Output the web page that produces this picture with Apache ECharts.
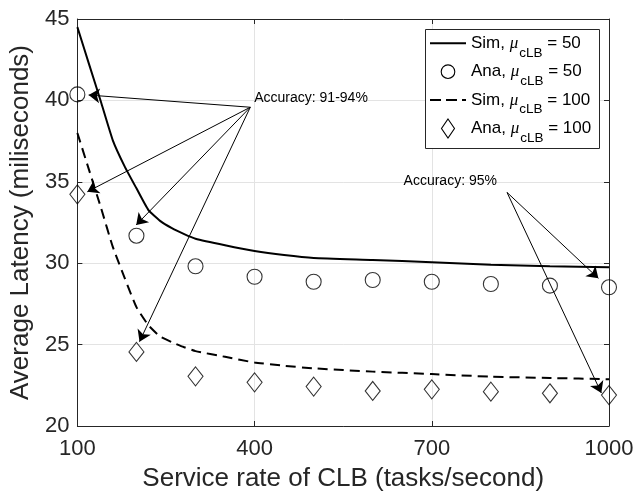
<!DOCTYPE html>
<html><head><meta charset="utf-8">
<script src="https://cdn.jsdelivr.net/npm/echarts@6/dist/echarts.min.js"></script>
<style>html,body{margin:0;padding:0;background:#fff}#c{width:638px;height:498px}</style>
</head><body><div id="c"></div>
<script>
// ---- data ----
const anaX = [100, 200, 300, 400, 500, 600, 700, 800, 900, 1000];
const ana50 = [40.37, 31.69, 29.81, 29.17, 28.86, 28.97, 28.86, 28.72, 28.62, 28.52];
const ana100 = [34.23, 24.55, 23.05, 22.68, 22.42, 22.15, 22.25, 22.11, 22.01, 21.90];
const simX = [100, 120, 140, 160, 180, 200, 220, 240, 260, 280, 300, 350, 400, 450, 500, 600, 700, 800, 900, 1000];
const sim50 = [44.5, 42.2, 39.9, 37.55, 35.95, 34.6, 33.28, 32.6, 32.15, 31.8, 31.5, 31.1, 30.75, 30.5, 30.32, 30.2, 30.06, 29.9, 29.81, 29.75];
const sim100 = [38.0, 35.7, 33.4, 31.0, 29.1, 27.3, 26.2, 25.5, 25.15, 24.85, 24.6, 24.25, 23.9, 23.7, 23.54, 23.34, 23.19, 23.03, 22.95, 22.87];
const xTicks = [100, 400, 700, 1000];
const yTicks = [20, 25, 30, 35, 40, 45];
const seriesNames = ['Sim, μcLB = 50', 'Ana, μcLB = 50', 'Sim, μcLB = 100', 'Ana, μcLB = 100'];
const legendPrefix = ['Sim, ', 'Ana, ', 'Sim, ', 'Ana, '];
const legendValue = ['50', '50', '100', '100'];
const legendIcon = ['solid', 'circle', 'dashed', 'diamond'];
const xTitle = 'Service rate of CLB (tasks/second)';
const yTitle = 'Average Latency (miliseconds)';
// annotations (data coordinates)
const annoText = ['Accuracy: 91-94%', 'Accuracy: 95%'];
const annoTextAt = [[399.4, 40.13], [652.2, 35.06]];
const arrowFrom = [[392.7, 39.58], [827.3, 34.35]];
const arrowTo = [
  [[119.1, 40.33], [116.9, 34.39], [199.6, 32.35], [205.2, 25.18]],
  [[982, 29.07], [987, 22.03]]
];

const FONT = "'Liberation Sans', Arial, Helvetica, sans-serif";
const SERIF = "'Liberation Serif', 'DejaVu Serif', serif";
const zip = (xs, ys) => xs.map((x, i) => [x, ys[i]]);

const arrowData = [];
arrowFrom.forEach((f, g) => arrowTo[g].forEach(t => arrowData.push([{ coord: f }, { coord: t }])));

// ---- legend drawn as graphic (box, sample marks, rich text with subscript) ----
const LG = { x: 425, y: 29, w: 174, h: 119, row0: 14.3, pitch: 28.4, iconX0: 5, iconX1: 41, textX: 46 };
const legendGraphic = [{
  type: 'rect', z: 100,
  shape: { x: LG.x + 0.5, y: LG.y + 0.5, width: LG.w, height: LG.h },
  style: { fill: '#fff', stroke: '#262626', lineWidth: 1 }
}];
legendIcon.forEach((ic, i) => {
  const cy = LG.y + LG.row0 + i * LG.pitch;
  const cx = LG.x + (LG.iconX0 + LG.iconX1) / 2;
  if (ic === 'solid' || ic === 'dashed') {
    legendGraphic.push({
      type: 'line', z: 101,
      shape: { x1: LG.x + LG.iconX0, y1: cy, x2: LG.x + LG.iconX1, y2: cy },
      style: { stroke: '#000', lineWidth: 2, lineDash: ic === 'dashed' ? [11, 5] : null }
    });
  } else if (ic === 'circle') {
    legendGraphic.push({
      type: 'circle', z: 101, shape: { cx: cx, cy: cy, r: 6.8 },
      style: { fill: 'none', stroke: '#000', lineWidth: 1.1 }
    });
  } else {
    legendGraphic.push({
      type: 'polygon', z: 101,
      shape: { points: [[cx, cy - 9.5], [cx + 6.5, cy], [cx, cy + 9.5], [cx - 6.5, cy]] },
      style: { fill: 'none', stroke: '#000', lineWidth: 1.1 }
    });
  }
  legendGraphic.push({
    type: 'text', z: 101,
    style: {
      x: LG.x + LG.textX, y: cy, verticalAlign: 'middle', align: 'left',
      text: '{a|' + legendPrefix[i] + '}{m|μ}{s|cLB}{a| = ' + legendValue[i] + '}',
      rich: {
        a: { fontSize: 17, fontFamily: FONT, fill: '#000' },
        m: { fontSize: 17, fontStyle: 'italic', fontFamily: SERIF, fill: '#000' },
        s: { fontSize: 13.5, fontFamily: FONT, fill: '#000', padding: [19, 0, 0, 1] }
      }
    }
  });
});

const chart = echarts.init(document.getElementById('c'), null, { renderer: 'canvas' });
const axisCommon = {
  axisLine: { show: true, onZero: false, lineStyle: { color: '#262626', width: 1 } },
  axisTick: { show: true, inside: true, length: 5, lineStyle: { color: '#262626' } },
};
chart.setOption({
  animation: false,
  backgroundColor: '#fff',
  grid: { left: 76, right: 29, top: 19, bottom: 72, containLabel: false },
  xAxis: [
    Object.assign({
      type: 'value', min: xTicks[0], max: xTicks[xTicks.length - 1], interval: xTicks[1] - xTicks[0],
      name: xTitle, nameLocation: 'middle', nameGap: 40,
      nameTextStyle: { fontSize: 26, color: '#262626', fontFamily: FONT },
      axisLabel: { fontSize: 22, color: '#262626', fontFamily: FONT, margin: 12, formatter: v => String(v) },
      splitLine: { show: true, lineStyle: { color: '#e3e3e3', width: 1 } }
    }, axisCommon),
    Object.assign({
      type: 'value', position: 'top', min: xTicks[0], max: xTicks[xTicks.length - 1], interval: xTicks[1] - xTicks[0],
      axisLabel: { show: false }, splitLine: { show: false }
    }, axisCommon)
  ],
  yAxis: [
    Object.assign({
      type: 'value', min: yTicks[0], max: yTicks[yTicks.length - 1], interval: yTicks[1] - yTicks[0],
      name: yTitle, nameLocation: 'middle', nameGap: 37, nameRotate: 90,
      nameTextStyle: { fontSize: 26, color: '#262626', fontFamily: FONT },
      axisLabel: { fontSize: 22, color: '#262626', fontFamily: FONT, margin: 8, formatter: v => String(v) },
      splitLine: { show: true, lineStyle: { color: '#e3e3e3', width: 1 } }
    }, axisCommon),
    Object.assign({
      type: 'value', position: 'right', min: yTicks[0], max: yTicks[yTicks.length - 1], interval: yTicks[1] - yTicks[0],
      axisLabel: { show: false }, splitLine: { show: false }
    }, axisCommon)
  ],
  graphic: legendGraphic,
  series: [
    {
      name: seriesNames[0], type: 'line', data: zip(simX, sim50), symbol: 'none', showSymbol: false,
      smooth: 0.15,
      lineStyle: { color: '#000', width: 2, type: 'solid' }, itemStyle: { color: '#000' }, z: 3,
      markLine: {
        silent: true, symbol: ['none', 'arrow'], symbolSize: 11, animation: false,
        label: { show: false }, emphasis: { disabled: true },
        lineStyle: { color: '#000', width: 1, type: 'solid' },
        data: arrowData
      },
      markPoint: {
        silent: true, symbol: 'circle', symbolSize: 0, animation: false,
        itemStyle: { color: 'rgba(0,0,0,0)' },
        label: { show: true, position: 'right', distance: 0, formatter: '{b}', color: '#000', fontSize: 14, fontFamily: FONT },
        data: annoText.map((t, i) => ({ name: t, coord: annoTextAt[i] }))
      }
    },
    {
      name: seriesNames[1], type: 'scatter', data: zip(anaX, ana50), symbol: 'circle', symbolSize: 15,
      itemStyle: { color: 'rgba(255,255,255,0)', borderColor: '#000', borderWidth: 1.1 }, z: 4
    },
    {
      name: seriesNames[2], type: 'line', data: zip(simX, sim100), symbol: 'none', showSymbol: false,
      smooth: 0.15,
      lineStyle: { color: '#000', width: 2, type: [10, 6] }, itemStyle: { color: '#000' }, z: 3
    },
    {
      name: seriesNames[3], type: 'scatter', data: zip(anaX, ana100), symbol: 'diamond', symbolSize: [15, 19],
      itemStyle: { color: 'rgba(255,255,255,0)', borderColor: '#000', borderWidth: 1.1 }, z: 4
    }
  ]
});
</script>
</body></html>
